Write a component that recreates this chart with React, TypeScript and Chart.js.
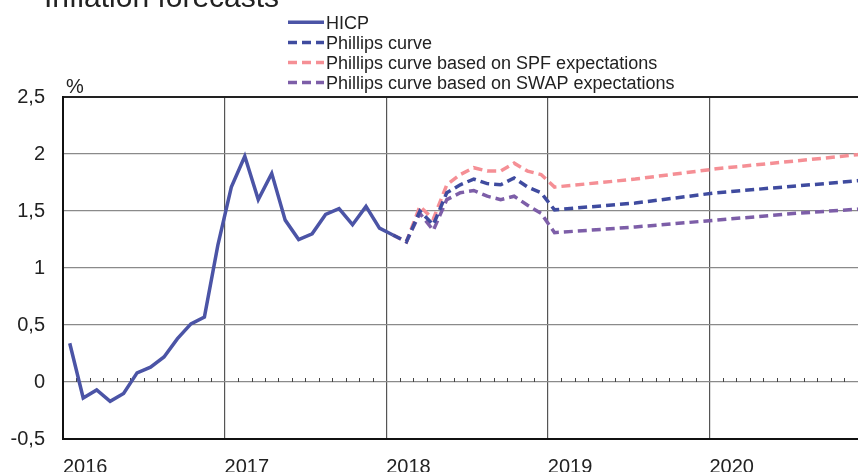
import React, { useEffect, useRef } from 'react';
import { Chart, registerables } from 'chart.js';

Chart.register(...registerables);

// ---- data ----
const titleText = 'Inflation forecasts';
const unitLabel = '%';
const yearLabels = ['2016', '2017', '2018', '2019', '2020'];
// month index 0 = Jan 2016
const yearStartMonths = [0, 12, 24, 36, 48];
const yTicks = [-0.5, 0, 0.5, 1, 1.5, 2, 2.5];

const hicpValues = [
  0.34, -0.14, -0.07, -0.17, -0.1, 0.08, 0.13, 0.22, 0.38, 0.51, 0.57, 1.2,
  1.71, 1.98, 1.6, 1.83, 1.42, 1.25, 1.3, 1.47, 1.52, 1.38, 1.54, 1.35,
  1.29,
];

const forecastMonths = [24, 25, 26, 27, 28, 29, 30, 31, 32, 33, 34, 35, 36, 42, 48, 54, 59];
const phillipsValues = [1.29, 1.23, 1.5, 1.38, 1.66, 1.73, 1.78, 1.74, 1.73, 1.79, 1.71, 1.66, 1.51, 1.57, 1.66, 1.72, 1.77];
const spfValues = [1.29, 1.23, 1.54, 1.43, 1.73, 1.82, 1.88, 1.85, 1.85, 1.92, 1.85, 1.82, 1.71, 1.78, 1.87, 1.94, 2.0];
const swapValues = [1.29, 1.23, 1.48, 1.33, 1.6, 1.66, 1.68, 1.63, 1.6, 1.63, 1.55, 1.48, 1.31, 1.36, 1.42, 1.48, 1.52];

const seriesLabels = [
  'HICP',
  'Phillips curve',
  'Phillips curve based on SPF expectations',
  'Phillips curve based on SWAP expectations',
];

// ---- styles ----
const FONT = '"Liberation Sans", Arial, sans-serif';
const TEXT = '#222222';
const C_HICP = '#4b54a6';
const C_PC = '#3f4b9f';
const C_SPF = '#f58f95';
const C_SWAP = '#7d5ea8';
const DASH = [9, 5];

const decorPlugin = {
  id: 'decor',
  beforeDatasetsDraw(chart: any) {
    const { ctx } = chart;
    const xs = chart.scales.x;
    const ys = chart.scales.y;
    const y0 = ys.getPixelForValue(0);
    ctx.save();
    ctx.strokeStyle = '#444';
    ctx.lineWidth = 1;
    const last = Math.round(xs.max + 0.5);
    for (let k = 1; k < last; k++) {
      if (yearStartMonths.includes(k)) continue;
      const x = Math.round(xs.getPixelForValue(k - 0.5)) + 0.5;
      ctx.beginPath();
      ctx.moveTo(x, y0);
      ctx.lineTo(x, y0 - 4);
      ctx.stroke();
    }
    ctx.restore();
  },
  afterDraw(chart: any) {
    const { ctx, chartArea } = chart;
    ctx.save();
    ctx.fillStyle = TEXT;
    // title
    ctx.font = `30px ${FONT}`;
    ctx.textAlign = 'left';
    ctx.textBaseline = 'alphabetic';
    ctx.fillText(titleText, 44, 7);
    // unit
    ctx.font = `20px ${FONT}`;
    ctx.fillText(unitLabel, chartArea.left + 3, chartArea.top - 4);
    // legend
    ctx.font = `18px ${FONT}`;
    chart.data.datasets.forEach((ds: any, i: number) => {
      const cy = 22.3 + i * 20.1;
      ctx.save();
      ctx.strokeStyle = ds.borderColor;
      ctx.lineWidth = 3.5;
      ctx.setLineDash(ds.borderDash || []);
      ctx.beginPath();
      ctx.moveTo(288, cy);
      ctx.lineTo(324, cy);
      ctx.stroke();
      ctx.restore();
      ctx.fillStyle = TEXT;
      ctx.fillText(ds.label, 326, cy + 6.4);
    });
    ctx.restore();
  },
};

export default function App() {
  const ref = useRef<HTMLCanvasElement | null>(null);

  useEffect(() => {
    if (!ref.current) return;
    Chart.defaults.font.family = FONT;
    const chart = new Chart(ref.current, {
      type: 'line',
      data: {
        datasets: [
          {
            label: seriesLabels[0],
            data: hicpValues.map((v, i) => ({ x: i, y: v })),
            borderColor: C_HICP,
            borderWidth: 3.5,
            borderDash: [],
            pointRadius: 0,
            tension: 0,
          },
          {
            label: seriesLabels[1],
            data: forecastMonths.map((m, i) => ({ x: m, y: phillipsValues[i] })),
            borderColor: C_PC,
            borderWidth: 3.5,
            borderDash: DASH,
            pointRadius: 0,
            tension: 0,
          },
          {
            label: seriesLabels[2],
            data: forecastMonths.map((m, i) => ({ x: m, y: spfValues[i] })),
            borderColor: C_SPF,
            borderWidth: 3.5,
            borderDash: DASH,
            pointRadius: 0,
            tension: 0,
          },
          {
            label: seriesLabels[3],
            data: forecastMonths.map((m, i) => ({ x: m, y: swapValues[i] })),
            borderColor: C_SWAP,
            borderWidth: 3.5,
            borderDash: DASH,
            pointRadius: 0,
            tension: 0,
          },
        ],
      },
      options: {
        animation: false,
        responsive: false,
        devicePixelRatio: 1,
        layout: { padding: { top: 97, left: 0, right: 1, bottom: 0 } },
        plugins: {
          legend: { display: false },
          tooltip: { enabled: false },
          title: { display: false },
        },
        scales: {
          x: {
            type: 'linear',
            min: -0.5,
            max: 59.5,
            afterBuildTicks: (s: any) => {
              s.ticks = yearStartMonths.map((m) => ({ value: m - 0.5 }));
            },
            afterFit: (s: any) => {
              s.height = 33;
            },
            ticks: {
              autoSkip: false,
              maxRotation: 0,
              align: 'start',
              padding: 16,
              color: TEXT,
              font: { size: 20 },
              callback: (_v: any, i: number) => yearLabels[i],
            },
            grid: { color: '#555', lineWidth: 1.2, drawTicks: false },
            border: { display: true, color: '#111', width: 2 },
          },
          y: {
            type: 'linear',
            min: -0.5,
            max: 2.5,
            afterBuildTicks: (s: any) => {
              s.ticks = yTicks.map((v) => ({ value: v }));
            },
            afterFit: (s: any) => {
              s.width = 63;
            },
            ticks: {
              padding: 18,
              color: TEXT,
              font: { size: 20 },
              callback: (v: any) => String(v).replace('.', ','),
            },
            grid: {
              drawTicks: false,
              color: (c: any) => (c.tick && c.tick.value === 2.5 ? '#222' : '#8a8a8a'),
              lineWidth: (c: any) => (c.tick && c.tick.value === 2.5 ? 2 : 1.3),
            },
            border: { display: true, color: '#111', width: 2 },
          },
        },
      },
      plugins: [decorPlugin],
    } as any);
    return () => chart.destroy();
  }, []);

  return (
    <div
      style={{
        position: 'fixed',
        left: 0,
        top: 0,
        width: 858,
        height: 472,
        overflow: 'hidden',
        background: '#fff',
      }}
    >
      <canvas ref={ref} width={872} height={472} style={{ display: 'block' }} />
    </div>
  );
}
